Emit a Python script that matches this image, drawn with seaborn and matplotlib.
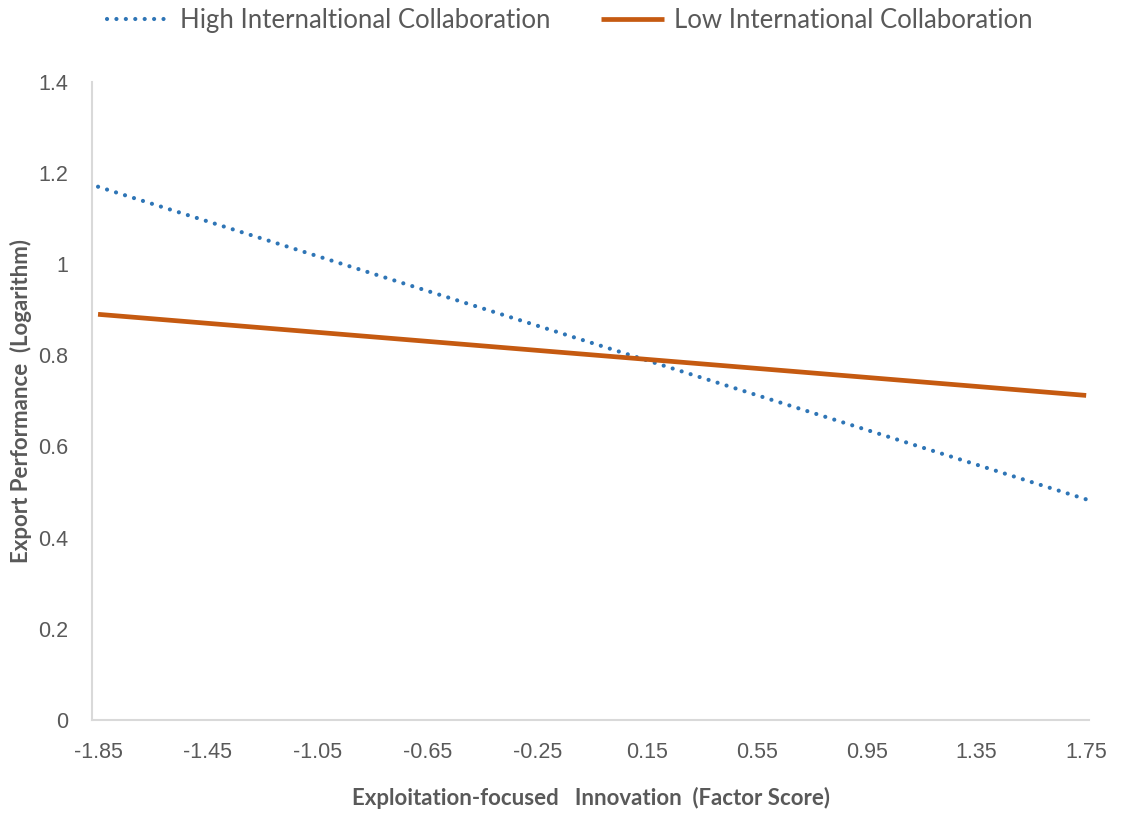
import matplotlib
matplotlib.use("Agg")
import matplotlib.pyplot as plt
import seaborn as sns
import pandas as pd

x_vals = [-1.85, 1.75]
high_vals = [1.17, 0.484]
low_vals = [0.89, 0.712]
series_names = ["High Internaltional Collaboration", "Low International Collaboration"]
x_ticks = [-1.85, -1.45, -1.05, -0.65, -0.25, 0.15, 0.55, 0.95, 1.35, 1.75]
y_ticks = [0, 0.2, 0.4, 0.6, 0.8, 1.0, 1.2, 1.4]
y_tick_labels = ["0", "0.2", "0.4", "0.6", "0.8", "1", "1.2", "1.4"]

sns.set_theme(style="white")
plt.rcParams['font.family'] = ['Liberation Sans', 'DejaVu Sans']

df = pd.DataFrame({
    "x": x_vals * 2,
    "y": high_vals + low_vals,
    "series": [series_names[0]] * 2 + [series_names[1]] * 2,
})

fig = plt.figure(figsize=(11.22, 8.19), dpi=100)
ax = fig.add_axes([0.082, 0.121, 0.889, 0.779])

sns.lineplot(data=df[df.series == series_names[0]], x="x", y="y", ax=ax,
             color="#2E75B6", linewidth=3.0, label=series_names[0])
sns.lineplot(data=df[df.series == series_names[1]], x="x", y="y", ax=ax,
             color="#C55A11", linewidth=3.4, label=series_names[1])
l_high = ax.lines[0]
l_high.set_dashes((0.01, 2.25))
l_high.set_dash_capstyle("round")
ax.lines[1].set_solid_capstyle("butt")

ax.set_xlim(-1.872, 1.762)
ax.set_ylim(0, 1.4)
ax.set_xticks(x_ticks)
ax.set_xticklabels([f"{v:.2f}" for v in x_ticks])
ax.set_yticks(y_ticks)
ax.set_yticklabels(y_tick_labels)
ax.tick_params(axis="both", labelsize=15.5, colors="#595959", length=0)
ax.tick_params(axis="x", pad=16)
ax.tick_params(axis="y", pad=17)

for s in ["top", "right"]:
    ax.spines[s].set_visible(False)
for s in ["left", "bottom"]:
    ax.spines[s].set_color("#D9D9D9")
    ax.spines[s].set_linewidth(1.5)

ax.set_xlabel("Exploitation-focused   Innovation  (Factor Score)", fontsize=16,
              fontweight="bold", color="#595959", family=["Lato", "DejaVu Sans"])
ax.xaxis.set_label_coords(0.5, -0.105)
ax.set_ylabel("Export Performance  (Logarithm)", fontsize=16,
              fontweight="bold", color="#595959", family=["Lato", "DejaVu Sans"])
ax.yaxis.set_label_coords(-0.060, 0.5)

ax.legend_.remove()
handles, labels = ax.get_legend_handles_labels()
leg = fig.legend(handles, labels, loc="center", bbox_to_anchor=(0.508, 0.975), ncol=2,
                 frameon=False, prop={"family": ["Lato", "DejaVu Sans"], "size": 18.5},
                 handlelength=2.45, columnspacing=1.95, handletextpad=0.4)
for t in leg.get_texts():
    t.set_color("#595959")

fig.savefig("out.png", dpi=100, facecolor="white")
